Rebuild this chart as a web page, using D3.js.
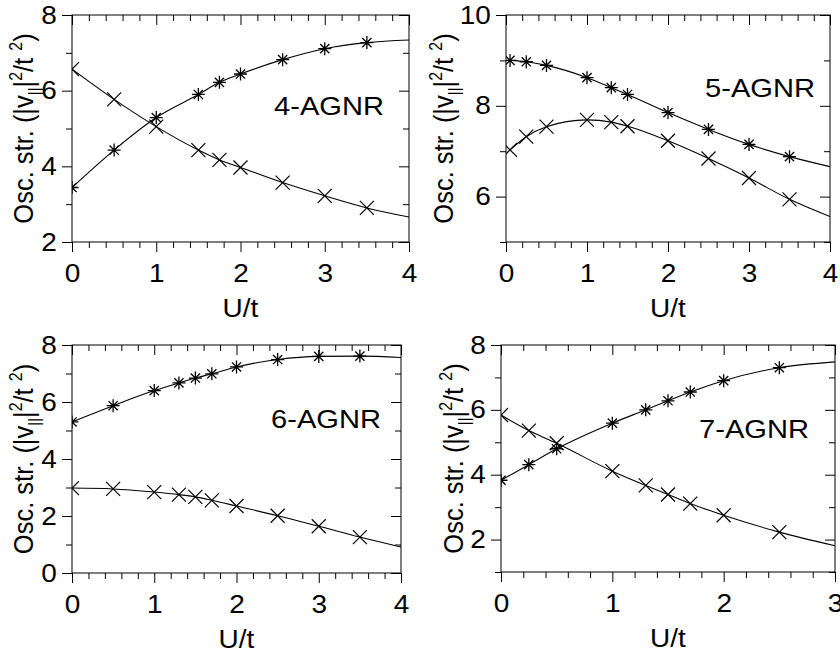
<!DOCTYPE html>
<html>
<head>
<meta charset="utf-8">
<script src="https://cdn.jsdelivr.net/npm/d3@7"></script>
<style>
  html, body { margin: 0; padding: 0; background: #fff; }
  svg { display: block; }
  text { font-family: "Liberation Sans", Arial, Helvetica, sans-serif; fill: #000; }
</style>
</head>
<body>
<svg id="chart" width="840" height="655"></svg>
<script>
// Oscillator strength of the two lowest bright excitations vs. U/t
// for armchair graphene nanoribbons of width 4..7.

// ---- 4-AGNR ----
const uGrid4 = [0, 0.5, 1, 1.5, 1.75, 2, 2.5, 3, 3.5];
const agnr4Star = [3.44, 4.43, 5.29, 5.90, 6.22, 6.44, 6.82, 7.11, 7.27];
const agnr4Cross = [6.57, 5.77, 5.05, 4.43, 4.17, 3.97, 3.57, 3.22, 2.90];
const agnr4Tail = [7.34, 2.66];          // fitted curves at U/t = 4

// ---- 5-AGNR ----
const uGrid5 = [0.05, 0.25, 0.5, 1, 1.3, 1.5, 2, 2.5, 3, 3.5];
const agnr5Star = [9.00, 8.97, 8.89, 8.62, 8.40, 8.25, 7.85, 7.48, 7.15, 6.88];
const agnr5Cross = [7.03, 7.32, 7.54, 7.69, 7.64, 7.55, 7.23, 6.84, 6.41, 5.94];
const agnr5Tail = [6.66, 5.56];

// ---- 6-AGNR ----
const uGrid6 = [0, 0.5, 1, 1.3, 1.5, 1.7, 2, 2.5, 3, 3.5];
const agnr6Star = [5.30, 5.87, 6.40, 6.67, 6.84, 6.99, 7.23, 7.49, 7.60, 7.61];
const agnr6Cross = [2.98, 2.95, 2.84, 2.75, 2.67, 2.55, 2.35, 2.01, 1.64, 1.26];
const agnr6Tail = [7.56, 0.91];

// ---- 7-AGNR ----
const uGrid7 = [0, 0.25, 0.5, 1, 1.3, 1.5, 1.7, 2, 2.5];
const agnr7Star = [3.83, 4.31, 4.80, 5.59, 6.00, 6.28, 6.55, 6.90, 7.30];
const agnr7Cross = [5.84, 5.36, 4.97, 4.11, 3.67, 3.39, 3.11, 2.75, 2.23];
const agnr7Tail = [7.48, 1.81];          // fitted curves at U/t = 3

const panelNames = ["4-AGNR", "5-AGNR", "6-AGNR", "7-AGNR"];
const xTickLabels4 = [0, 1, 2, 3, 4];
const xTickLabels3 = [0, 1, 2, 3];
const yTicks4 = [2, 4, 6, 8];
const yTicks5 = [6, 8, 10];
const yTicks6 = [0, 2, 4, 6, 8];
const yTicks7 = [2, 4, 6, 8];

const STRETCH = 1.12;  // the lettering is set slightly wide

const panels = [
  { name: panelNames[0], u: uGrid4, star: agnr4Star, cross: agnr4Cross, tail: agnr4Tail,
    xDom: [0, 4], yDom: [2, 8], xMajor: xTickLabels4, yMajor: yTicks4,
    box: { l: 72, r: 409, t: 15, b: 242 }, yLabX: 33, tag: { dr: 25, dt: 100 } },
  { name: panelNames[1], u: uGrid5, star: agnr5Star, cross: agnr5Cross, tail: agnr5Tail,
    xDom: [0, 4], yDom: [5, 10], xMajor: xTickLabels4, yMajor: yTicks5,
    box: { l: 506, r: 830, t: 15, b: 242 }, yLabX: 453, tag: { dr: 15, dt: 82 } },
  { name: panelNames[2], u: uGrid6, star: agnr6Star, cross: agnr6Cross, tail: agnr6Tail,
    xDom: [0, 4], yDom: [0, 8], xMajor: xTickLabels4, yMajor: yTicks6,
    box: { l: 72, r: 401, t: 345, b: 573 }, yLabX: 33, tag: { dr: 20, dt: 83 } },
  { name: panelNames[3], u: uGrid7, star: agnr7Star, cross: agnr7Cross, tail: agnr7Tail,
    xDom: [0, 3], yDom: [1, 8], xMajor: xTickLabels3, yMajor: yTicks7,
    box: { l: 501, r: 835, t: 345, b: 572 }, yLabX: 463, tag: { dr: 26, dt: 93 } }
];

const svg = d3.select("#chart");
const TICK_FS = 25;

function stretchText(sel) {
  sel.each(function () {
    const t = d3.select(this);
    const x = +t.attr("x") || 0;
    t.attr("x", x / STRETCH).attr("transform", `scale(${STRETCH},1)`);
  });
}

function asterisk(g, cx, cy, r) {
  const d = r * Math.SQRT1_2;
  g.append("path")
    .attr("d", `M${cx - r},${cy}H${cx + r}M${cx},${cy - r}V${cy + r}` +
               `M${cx - d},${cy - d}L${cx + d},${cy + d}M${cx - d},${cy + d}L${cx + d},${cy - d}`)
    .attr("stroke", "#000").attr("stroke-width", 1.3).attr("fill", "none");
}
function cross(g, cx, cy, r) {
  g.append("path")
    .attr("d", `M${cx - r},${cy - r}L${cx + r},${cy + r}M${cx - r},${cy + r}L${cx + r},${cy - r}`)
    .attr("stroke", "#000").attr("stroke-width", 1.2).attr("fill", "none");
}

panels.forEach((p, i) => {
  const { l, r, t, b } = p.box;
  const x = d3.scaleLinear().domain(p.xDom).range([l, r]);
  const y = d3.scaleLinear().domain(p.yDom).range([b, t]);

  const xMinor = d3.range(p.xDom[0], p.xDom[1] + 1e-9, 0.2).map(v => +v.toFixed(2))
    .filter(v => Math.abs(v - Math.round(v)) > 1e-6);
  const yMinor = d3.range(p.yDom[0], p.yDom[1] + 1e-9, 1).filter(v => !p.yMajor.includes(v));

  const g = svg.append("g");

  // clip region for curves and markers
  const clipId = "clip" + i;
  svg.append("clipPath").attr("id", clipId)
    .append("rect").attr("x", l).attr("y", t).attr("width", r - l).attr("height", b - t);

  // outward ticks (bottom / left) with labels
  const bottom = g.append("g").attr("transform", `translate(0,${b})`)
    .call(d3.axisBottom(x).tickValues(p.xMajor).tickSize(10).tickPadding(12).tickFormat(d3.format("d")));
  g.append("g").attr("transform", `translate(0,${b})`)
    .call(d3.axisBottom(x).tickValues(xMinor).tickSize(6).tickFormat(""));
  const left = g.append("g").attr("transform", `translate(${l},0)`)
    .call(d3.axisLeft(y).tickValues(p.yMajor).tickSize(10).tickPadding(5.2).tickFormat(d3.format("d")));
  g.append("g").attr("transform", `translate(${l},0)`)
    .call(d3.axisLeft(y).tickValues(yMinor).tickSize(6).tickFormat(""));

  // mirrored inward ticks (top / right)
  g.append("g").attr("transform", `translate(0,${t})`)
    .call(d3.axisTop(x).tickValues(p.xMajor).tickSize(-10).tickFormat(""));
  g.append("g").attr("transform", `translate(0,${t})`)
    .call(d3.axisTop(x).tickValues(xMinor).tickSize(-6).tickFormat(""));
  g.append("g").attr("transform", `translate(${r},0)`)
    .call(d3.axisRight(y).tickValues(p.yMajor).tickSize(-10).tickFormat(""));
  g.append("g").attr("transform", `translate(${r},0)`)
    .call(d3.axisRight(y).tickValues(yMinor).tickSize(-6).tickFormat(""));

  g.selectAll(".domain").remove();
  g.selectAll(".tick line").attr("stroke", "#000").attr("stroke-width", 1);
  g.selectAll(".tick text").attr("font-size", TICK_FS)
    .attr("font-family", '"Liberation Sans", Arial, sans-serif').attr("fill", "#000");
  stretchText(bottom.selectAll(".tick text"));
  stretchText(left.selectAll(".tick text"));

  // frame
  g.append("rect").attr("x", l).attr("y", t).attr("width", r - l).attr("height", b - t)
    .attr("fill", "none").attr("stroke", "#000").attr("stroke-width", 1);

  // fitted curves through the computed points
  const line = d3.line().x(d => x(d[0])).y(d => y(d[1])).curve(d3.curveMonotoneX);
  const xEnd = p.xDom[1];
  const starPts = p.u.map((u, k) => [u, p.star[k]]).concat([[xEnd, p.tail[0]]]);
  const crossPts = p.u.map((u, k) => [u, p.cross[k]]).concat([[xEnd, p.tail[1]]]);
  const plot = g.append("g").attr("clip-path", `url(#${clipId})`);
  [starPts, crossPts].forEach(pts => {
    plot.append("path").attr("d", line(pts))
      .attr("fill", "none").attr("stroke", "#000").attr("stroke-width", 1.1);
  });

  // markers
  p.u.forEach((u, k) => {
    asterisk(plot, x(u), y(p.star[k]), 6.5);
    cross(plot, x(u), y(p.cross[k]), 7);
  });

  // ribbon name
  g.append("text")
    .attr("transform", `translate(${r - p.tag.dr},${t + p.tag.dt}) scale(${STRETCH},1)`)
    .attr("text-anchor", "end").attr("font-size", 26).text(p.name);

  // x-axis title
  g.append("text")
    .attr("transform", `translate(${(l + r) / 2},${b + 75}) scale(${STRETCH},1)`)
    .attr("text-anchor", "middle").attr("font-size", 25).text("U/t");

  // y-axis title: Osc. str. (|v_∥|²/t ²)
  const yl = g.append("text")
    .attr("transform", `translate(${p.yLabX},${(t + b) / 2}) scale(${STRETCH},1) rotate(-90)`)
    .attr("text-anchor", "middle").attr("font-size", 25.5);
  yl.append("tspan").text("Osc. str. (|v");
  yl.append("tspan").attr("font-size", 15).attr("dy", 6).text("||");
  yl.append("tspan").attr("dy", -6).text("|");
  yl.append("tspan").attr("font-size", 16).attr("dy", -10).text("2");
  yl.append("tspan").attr("dy", 10).text("/t ");
  yl.append("tspan").attr("font-size", 16).attr("dy", -10).text("2");
  yl.append("tspan").attr("dy", 10).text(")");
});
</script>
</body>
</html>
